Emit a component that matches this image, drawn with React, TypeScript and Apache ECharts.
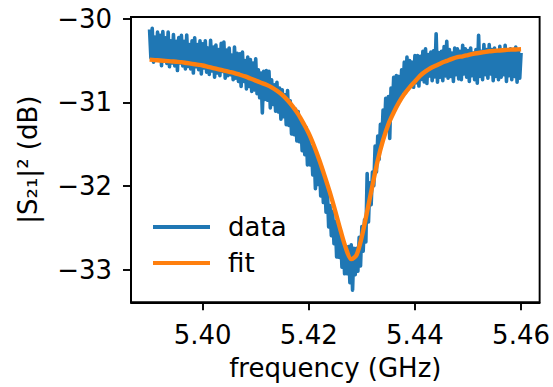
import React, { useEffect, useRef } from "react";
import * as echarts from "echarts";

// measured data: frequency grid start / step (GHz)
const DATA_F_START = 5.39;
const DATA_F_STEP = 0.00025;
const dataDb = [
  -30.13, -30.47, -30.115, -30.52, -30.22, -30.495, -30.16, -30.475, -30.2, -30.563,
  -30.155, -30.5, -30.23, -30.535, -30.16, -30.575, -30.265, -30.53, -30.19, -30.565,
  -30.27, -30.62, -30.225, -30.53, -30.2, -30.565, -30.27, -30.6, -30.195, -30.57,
  -30.31, -30.6, -30.265, -30.65, -30.23, -30.575, -30.31, -30.61, -30.265, -30.66,
  -30.3, -30.59, -30.265, -30.64, -30.35, -30.665, -30.26, -30.625, -30.34, -30.7,
  -30.315, -30.65, -30.37, -30.68, -30.295, -30.63, -30.28, -30.71, -30.375, -30.68,
  -30.35, -30.67, -30.435, -30.73, -30.34, -30.71, -30.415, -30.75, -30.42, -30.81,
  -30.4, -30.75, -30.5, -30.84, -30.46, -30.81, -30.49, -30.87, -30.53, -30.85,
  -30.48, -30.895, -30.61, -30.945, -30.65, -31.125, -30.63, -30.965, -30.62, -30.975,
  -30.63, -31.065, -30.73, -31.025, -30.79, -31.105, -30.76, -31.115, -30.83, -31.2,
  -30.85, -31.17, -30.91, -31.265, -30.86, -31.275, -30.98, -31.375, -31.09, -31.385,
  -31.08, -31.46, -31.11, -31.47, -31.23, -31.575, -31.28, -31.625, -31.3, -31.745,
  -31.4, -31.745, -31.53, -31.865, -31.57, -32.03, -31.64, -31.98, -31.72, -32.115,
  -31.83, -32.195, -31.89, -32.31, -32.04, -32.485, -32.23, -32.59, -32.3, -32.685,
  -32.42, -32.845, -32.45, -32.85, -32.55, -32.965, -32.68, -33.045, -32.72, -33.045,
  -32.72, -33.15, -32.7, -33.24, -32.74, -33.055, -32.74, -33.015, -32.61, -32.95,
  -32.48, -32.775, -32.4, -32.665, -31.85, -32.425, -31.96, -32.22, -31.83, -31.995,
  -31.52, -31.83, -31.4, -31.68, -31.26, -31.495, -31.09, -31.355, -30.95, -31.315,
  -30.93, -31.43, -30.83, -31.105, -30.7, -31.07, -30.68, -30.97, -30.69, -30.95,
  -30.61, -30.87, -30.52, -30.885, -30.46, -30.815, -30.5, -30.81, -30.52, -30.82,
  -30.44, -30.765, -30.44, -30.805, -30.45, -30.725, -30.39, -30.755, -30.36, -30.775,
  -30.43, -30.685, -30.4, -30.74, -30.385, -30.695, -30.18, -30.76, -30.405, -30.7,
  -30.39, -30.74, -30.335, -30.685, -30.27, -30.71, -30.37, -30.69, -30.41, -30.75,
  -30.35, -30.67, -30.36, -30.72, -30.39, -30.73, -30.32, -30.66, -30.36, -30.7,
  -30.38, -30.75, -30.35, -30.68, -30.41, -30.73, -30.37, -30.77, -30.2, -30.69,
  -30.39, -30.73, -30.31, -30.67, -30.37, -30.71, -30.31, -30.66, -30.37, -30.74,
  -30.35, -30.69, -30.4, -30.73, -30.33, -30.7, -30.38, -30.67, -30.32, -30.75,
  -30.39, -30.68, -30.36, -30.73, -30.37, -30.69, -30.34, -30.76, -30.38, -30.71,
  -30.41,
];

// fit curve: frequency grid start / step (GHz)
const FIT_F_START = 5.39;
const FIT_F_STEP = 0.001;
const fitDb = [
  -30.49, -30.495, -30.5, -30.505, -30.51, -30.515, -30.52, -30.53, -30.54, -30.55,
  -30.56, -30.575, -30.59, -30.605, -30.62, -30.635, -30.65, -30.67, -30.69, -30.715,
  -30.74, -30.765, -30.79, -30.82, -30.86, -30.91, -30.975, -31.05, -31.14, -31.25,
  -31.37, -31.52, -31.69, -31.88, -32.08, -32.3, -32.53, -32.74, -32.87, -32.82,
  -32.6, -32.3, -31.99, -31.69, -31.45, -31.26, -31.12, -31.0, -30.9, -30.82,
  -30.75, -30.68, -30.63, -30.59, -30.56, -30.53, -30.505, -30.48, -30.46, -30.45,
  -30.435, -30.42, -30.41, -30.4, -30.39, -30.385, -30.38, -30.375, -30.37, -30.368,
  -30.365,
];

const xTicks = [5.4, 5.42, 5.44, 5.46];
const yTicks = [-30, -31, -32, -33];
const seriesNames = ["data", "fit"];

const FONT = "DejaVu Sans";
const FS = 26;

export default function App() {
  const ref = useRef<HTMLDivElement>(null);
  useEffect(() => {
    if (!ref.current) return;
    const chart = echarts.init(ref.current, undefined, { renderer: "svg" });
    const dataPts = dataDb.map((v, i) => [+(DATA_F_START + i * DATA_F_STEP).toFixed(5), v]);
    const fitPts = fitDb.map((v, i) => [+(FIT_F_START + i * FIT_F_STEP).toFixed(5), v]);
    const tickStyle = { show: true, inside: false, length: 8, lineStyle: { color: "#000", width: 1.9 } };
    chart.setOption({
      animation: false,
      textStyle: { fontFamily: FONT },
      grid: {
        left: 131,
        right: 12.3,
        top: 17,
        bottom: 84.7,
        show: true,
        borderColor: "#000",
        borderWidth: 1.9,
        backgroundColor: "transparent",
      },
      xAxis: {
        type: "value",
        min: 5.3865,
        max: 5.4635,
        axisLine: { show: true, onZero: false, lineStyle: { color: "#000", width: 1.9 } },
        axisTick: { ...tickStyle, customValues: xTicks },
        axisLabel: {
          customValues: xTicks,
          formatter: (v: number) => v.toFixed(2),
          fontSize: FS,
          color: "#000",
          fontFamily: FONT,
          margin: 20,
        },
        splitLine: { show: false },
        name: "frequency (GHz)",
        nameLocation: "middle",
        nameGap: 53,
        nameTextStyle: { fontSize: FS, color: "#000", fontFamily: FONT },
      },
      yAxis: {
        type: "value",
        min: -33.385,
        max: -29.981,
        axisLine: { show: true, onZero: false, lineStyle: { color: "#000", width: 1.9 } },
        axisTick: { ...tickStyle, customValues: yTicks },
        axisLabel: {
          customValues: yTicks,
          formatter: (v: number) => String(Math.round(v)).replace("-", "\u2212"),
          fontSize: FS,
          color: "#000",
          fontFamily: FONT,
          margin: 19,
        },
        splitLine: { show: false },
        name: "|S\u2082\u2081|\u00B2 (dB)",
        nameLocation: "middle",
        nameRotate: 90,
        nameGap: 90,
        nameTextStyle: { fontSize: FS, color: "#000", fontFamily: FONT },
      },
      legend: {
        orient: "vertical",
        left: 148,
        top: 209,
        itemWidth: 57,
        itemHeight: 4,
        itemGap: 10,
        icon: "rect",
        data: seriesNames,
        textStyle: { fontSize: FS, color: "#000", fontFamily: FONT, padding: [0, 0, 0, 13] },
      },
      series: [
        {
          name: seriesNames[0],
          type: "line",
          data: dataPts,
          showSymbol: false,
          symbol: "none",
          lineStyle: { color: "#1f77b4", width: 3.6, join: "round" },
          itemStyle: { color: "#1f77b4" },
          z: 2,
        },
        {
          name: seriesNames[1],
          type: "line",
          data: fitPts,
          showSymbol: false,
          symbol: "none",
          smooth: 0.3,
          lineStyle: { color: "#ff7f0e", width: 4.4, join: "round" },
          itemStyle: { color: "#ff7f0e" },
          z: 3,
        },
      ],
    });
    return () => chart.dispose();
  }, []);
  return (
    <div
      ref={ref}
      style={{ position: "fixed", left: 0, top: 0, width: 553, height: 387, background: "#fff" }}
    />
  );
}
